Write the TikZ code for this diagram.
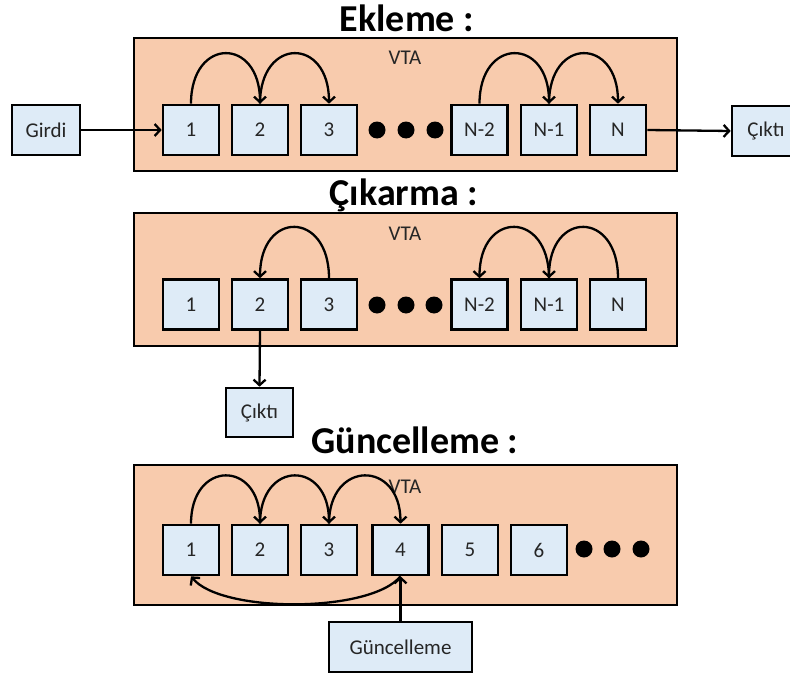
\documentclass[tikz,border=0pt]{standalone}
\usepackage{fontspec}
\setmainfont{Carlito}
\usetikzlibrary{arrows.meta}
\definecolor{peach}{HTML}{F8CBAD}
\definecolor{cellblue}{HTML}{DEEBF7}
\definecolor{labelgray}{HTML}{262626}
\begin{document}
\begin{tikzpicture}[x=1pt,y=-1pt,
  panel/.style={draw=black,line width=2.6pt,fill=peach},
  cell/.style={draw=black,line width=2.6pt,fill=cellblue,minimum width=56pt,minimum height=50pt,
    inner sep=0pt,font=\fontsize{21}{25}\selectfont,text=labelgray},
  iobox/.style={cell,minimum width=68pt},
  dotmark/.style={circle,fill=black,minimum size=17pt,inner sep=0pt},
  heading/.style={anchor=base,font=\fontsize{38}{44}\selectfont\bfseries},
  vta/.style={anchor=base,font=\fontsize{21}{25}\selectfont,text=labelgray},
  arr/.style={line width=2.3pt,-{Straight Barb[length=5.5pt,width=12pt,line width=2.3pt]}},
  hop/.style={arr}]
\useasboundingbox (0,0) rectangle (790,677);

% ---------- Ekleme ----------
\node[heading] (t1) at (407,32) {Ekleme :};
\draw[panel] (134,38) rectangle (677,171);
\node[vta] (v1) at (405,65) {VTA};
\node[iobox] (in1) at (46,130) {Girdi};
\node[cell] (a1) at (191,130) {1};
\node[cell] (a2) at (260,130) {2};
\node[cell] (a3) at (329,130) {3};
\node[dotmark] (ad1) at (377,130) {};
\node[dotmark] (ad2) at (406,130) {};
\node[dotmark] (ad3) at (435,130) {};
\node[cell] (a4) at (479.5,130) {N-2};
\node[cell] (a5) at (549,130) {N-1};
\node[cell] (a6) at (618,130) {N};
\begin{scope}
\clip (0,0) rectangle (790,677);
\node[iobox] (out1) at (766,131) {Çıktı};
\end{scope}
\draw[arr] (in1.east) -- (a1.west);
\draw[arr] (a6.east) -- (out1.west);
\draw[hop] (a1.north) .. controls +(0,-67) and +(0,-67) .. (a2.north);
\draw[hop] (a2.north) .. controls +(0,-67) and +(0,-67) .. (a3.north);
\draw[hop] (a4.north) .. controls +(0,-67) and +(0,-67) .. (a5.north);
\draw[hop] (a5.north) .. controls +(0,-67) and +(0,-67) .. (a6.north);

% ---------- Çıkarma ----------
\node[heading] (t2) at (404,205) {Çıkarma :};
\draw[panel] (134,213) rectangle (677,346);
\node[vta] (v2) at (405,240) {VTA};
\node[cell] (b1) at (191,304.5) {1};
\node[cell] (b2) at (260,304.5) {2};
\node[cell] (b3) at (329,304.5) {3};
\node[dotmark] (bd1) at (377,305) {};
\node[dotmark] (bd2) at (406,305) {};
\node[dotmark] (bd3) at (434,305) {};
\node[cell] (b4) at (479.5,304.5) {N-2};
\node[cell] (b5) at (549,304.5) {N-1};
\node[cell] (b6) at (618,304.5) {N};
\node[cell,minimum width=67pt,minimum height=49pt] (out2) at (259.5,412.5) {Çıktı};
\draw[hop] (b3.north) .. controls +(0,-68) and +(0,-68) .. (b2.north);
\draw[hop] (b6.north) .. controls +(0,-68) and +(0,-68) .. (b5.north);
\draw[hop] (b5.north) .. controls +(0,-68) and +(0,-68) .. (b4.north);
\draw[arr] (b2.south) -- (out2.north);

% ---------- Güncelleme ----------
\node[heading] (t3) at (415,453) {Güncelleme :};
\draw[panel] (134,465) rectangle (677,605);
\node[vta] (v3) at (405,493) {VTA};
\node[cell] (c1) at (191,550) {1};
\node[cell] (c2) at (260,550) {2};
\node[cell] (c3) at (329,550) {3};
\node[cell] (c4) at (400.5,550) {4};
\node[cell] (c5) at (470,550) {5};
\node[cell] (c6) at (539,550) {6};
\node[dotmark] (cd1) at (584,549) {};
\node[dotmark] (cd2) at (612,549) {};
\node[dotmark] (cd3) at (641,549) {};
\node[cell,minimum width=143pt] (upd) at (400.5,647) {Güncelleme};
\draw[hop] (c1.north) .. controls +(0,-64) and +(0,-64) .. (c2.north);
\draw[hop] (c2.north) .. controls +(0,-64) and +(0,-64) .. (c3.north);
\draw[hop] (c3.north) .. controls +(0,-64) and +(0,-64) .. (c4.north);
\draw[hop] (c4.south) .. controls +(-30,37) and +(30,37) .. (c1.south);
\draw[arr] (upd.north) -- (c4.south);
\end{tikzpicture}
\end{document}
